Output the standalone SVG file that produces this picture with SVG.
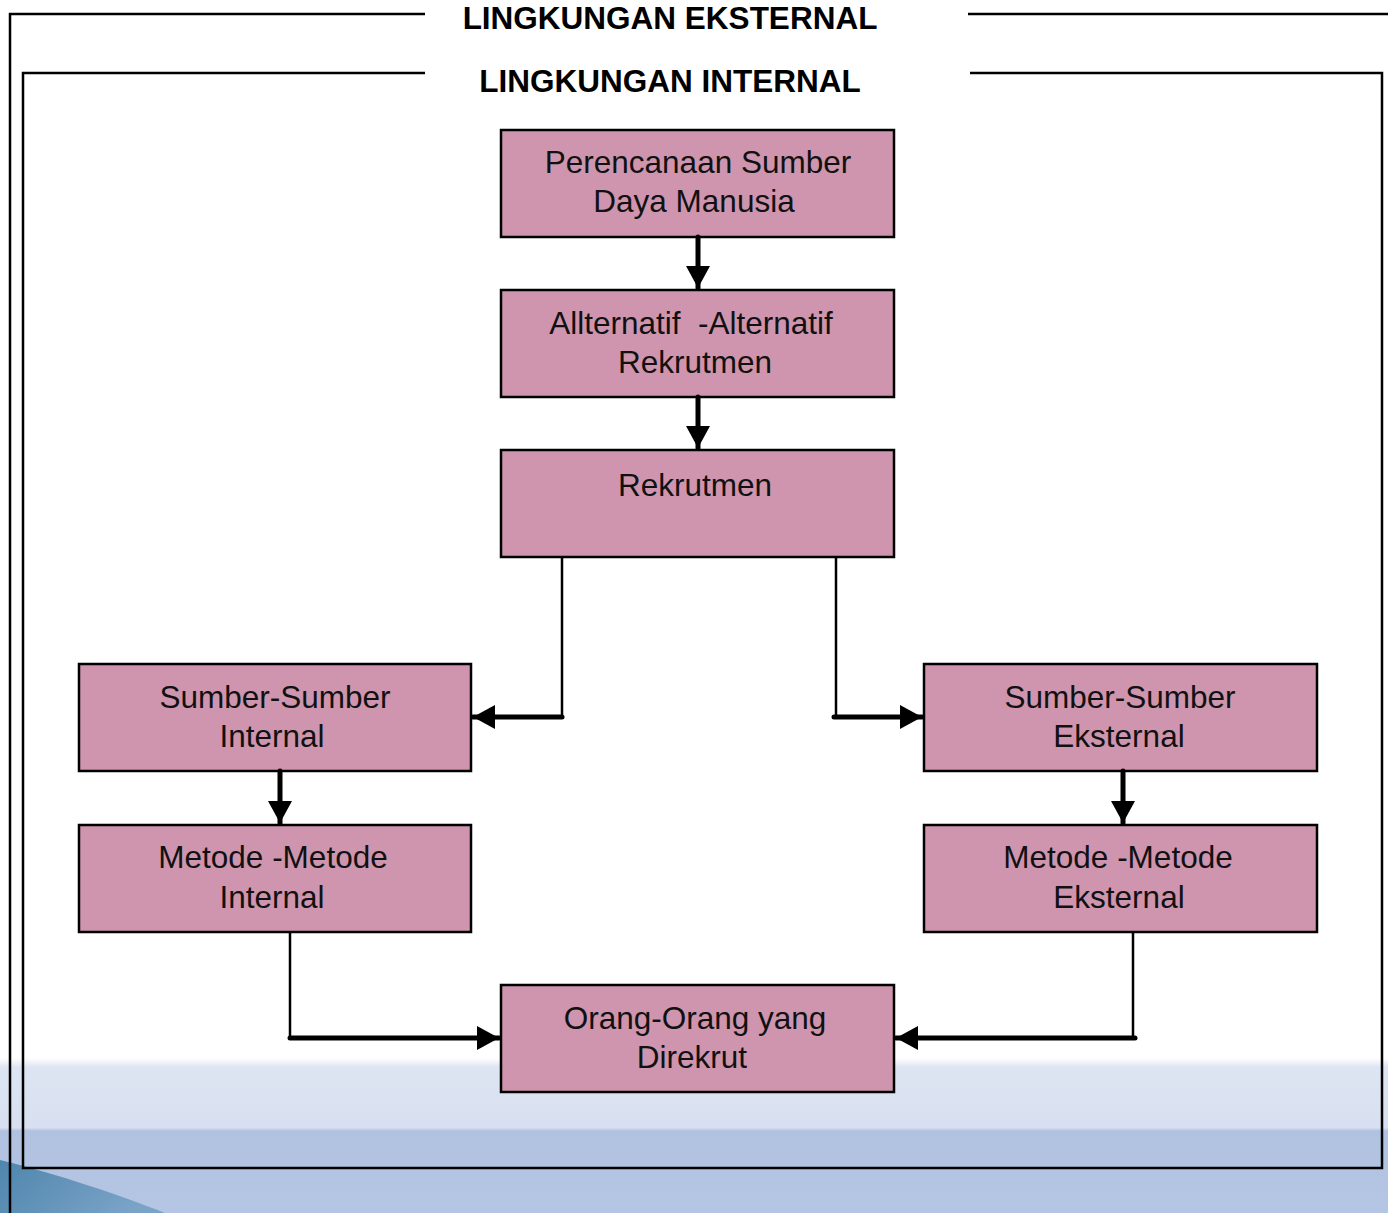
<svg xmlns="http://www.w3.org/2000/svg" width="1388" height="1213" viewBox="0 0 1388 1213">
<defs>
<style>
.node rect{fill:#cf95ae;stroke:#000;stroke-width:2.5}
.node text{font-family:"Liberation Sans",Arial,sans-serif;font-size:31.5px;fill:#111;text-anchor:middle}
.title{font-family:"Liberation Sans",Arial,sans-serif;font-size:31.5px;font-weight:bold;fill:#000;text-anchor:middle}
.frame{fill:none;stroke:#000;stroke-width:2.5}
.thin{fill:none;stroke:#000;stroke-width:2.5}
.thick{fill:none;stroke:#000;stroke-width:5;stroke-linecap:round}
</style>
<marker id="arr" markerUnits="userSpaceOnUse" markerWidth="24" markerHeight="26" refX="22" refY="13" orient="auto">
<path d="M0,1 L22,13 L0,25 z" fill="#000"/>
</marker>
<linearGradient id="bg" x1="0" y1="0" x2="0" y2="1">
<stop offset="0" stop-color="#ffffff"/>
<stop offset="0.06" stop-color="#dde4f2"/>
<stop offset="0.45" stop-color="#d8dff0"/>
<stop offset="0.47" stop-color="#b0c2e0"/>
<stop offset="1" stop-color="#b4c6e4"/>
</linearGradient>
<linearGradient id="sw" x1="0" y1="0" x2="1" y2="0.3">
<stop offset="0" stop-color="#4f86ad"/>
<stop offset="1" stop-color="#7ba3c8"/>
</linearGradient>
</defs>
<rect width="1388" height="1213" fill="#fff"/>
<rect x="0" y="1058" width="1388" height="155" fill="url(#bg)"/>
<path d="M0,1160 C60,1175 120,1195 165,1213 L0,1213 z" fill="url(#sw)"/>

<g id="frames">
<path class="frame" d="M10,1213 V14 H425 M968,14 H1388"/>
<path class="frame" d="M425,73 H23 V1168 H1382 V73 H970"/>
<text class="title" x="670" y="29">LINGKUNGAN EKSTERNAL</text>
<text class="title" x="670" y="92">LINGKUNGAN INTERNAL</text>
</g>

<g id="n1" class="node"><rect x="501" y="130" width="393" height="107"/><text x="698" y="173">Perencanaan Sumber</text><text x="694" y="212">Daya Manusia</text></g>
<g id="n2" class="node"><rect x="501" y="290" width="393" height="107"/><text x="691" y="334" xml:space="preserve">Allternatif  -Alternatif</text><text x="695" y="373">Rekrutmen</text></g>
<g id="n3" class="node"><rect x="501" y="450" width="393" height="107"/><text x="695" y="496">Rekrutmen</text></g>
<g id="n4" class="node"><rect x="79" y="664" width="392" height="107"/><text x="275" y="708">Sumber-Sumber</text><text x="272" y="747">Internal</text></g>
<g id="n5" class="node"><rect x="79" y="825" width="392" height="107"/><text x="273" y="868">Metode -Metode</text><text x="272" y="908">Internal</text></g>
<g id="n6" class="node"><rect x="924" y="664" width="393" height="107"/><text x="1120" y="708">Sumber-Sumber</text><text x="1119" y="747">Eksternal</text></g>
<g id="n7" class="node"><rect x="924" y="825" width="393" height="107"/><text x="1118" y="868">Metode -Metode</text><text x="1119" y="908">Eksternal</text></g>
<g id="n8" class="node"><rect x="501" y="985" width="393" height="107"/><text x="695" y="1029">Orang-Orang yang</text><text x="692" y="1068">Direkrut</text></g>

<g id="connectors">
<path class="thick" d="M698,237 V288" marker-end="url(#arr)"/>
<path class="thick" d="M698,397 V448" marker-end="url(#arr)"/>
<path class="thin" d="M562,557 V717"/>
<path class="thick" d="M562,717 H473" marker-end="url(#arr)"/>
<path class="thin" d="M836,557 V717"/>
<path class="thick" d="M834,717 H922" marker-end="url(#arr)"/>
<path class="thick" d="M280,771 V823" marker-end="url(#arr)"/>
<path class="thick" d="M1123,771 V823" marker-end="url(#arr)"/>
<path class="thin" d="M290,932 V1038"/>
<path class="thick" d="M290,1038 H499" marker-end="url(#arr)"/>
<path class="thin" d="M1133,932 V1038"/>
<path class="thick" d="M1135,1038 H896" marker-end="url(#arr)"/>
</g>
</svg>
